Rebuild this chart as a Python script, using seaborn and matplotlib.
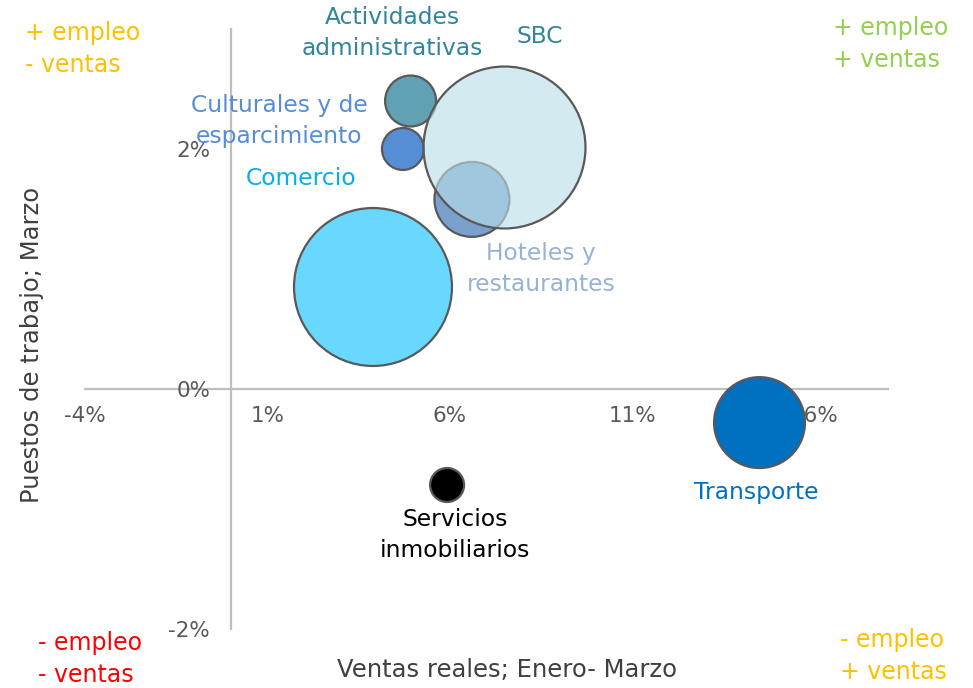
import pandas as pd
import matplotlib.pyplot as plt
import seaborn as sns

# datos (%)
sectores = ["Comercio", "Hoteles y\nrestaurantes", "Culturales y de\nesparcimiento",
            "Actividades\nadministrativas", "Transporte", "Servicios\ninmobiliarios", "SBC"]
ventas = [3.89, 6.60, 4.71, 4.92, 14.48, 5.92, 7.48]
empleo = [0.85, 1.58, 2.00, 2.40, -0.28, -0.80, 2.02]
peso = [95.1, 21.4, 6.7, 9.9, 31.5, 4.4, 100.0]

xticks = [-4, 1, 6, 11, 16]
yticks = [-2, 0, 2]

colores = {
    "Comercio": "#69d8ff",
    "Hoteles y\nrestaurantes": "#7aa1cd",
    "Culturales y de\nesparcimiento": "#558ed5",
    "Actividades\nadministrativas": "#60a2b4",
    "Transporte": "#0070c0",
    "Servicios\ninmobiliarios": "#000000",
    "SBC": "#b8dee8",
}
color_texto = {
    "Comercio": "#00b0f0",
    "Hoteles y\nrestaurantes": "#95b3d7",
    "Culturales y de\nesparcimiento": "#558ed5",
    "Actividades\nadministrativas": "#31859c",
    "Transporte": "#0070c0",
    "Servicios\ninmobiliarios": "#000000",
    "SBC": "#31859c",
}
# desplazamiento de la etiqueta respecto a la burbuja (pt)
offsets = {
    "Comercio": (-52, 78),
    "Hoteles y\nrestaurantes": (50, -50),
    "Culturales y de\nesparcimiento": (-89, 20),
    "Actividades\nadministrativas": (-13, 49),
    "Transporte": (-2, -50),
    "Servicios\ninmobiliarios": (6, -36),
    "SBC": (26, 79),
}

df = pd.DataFrame({"sector": sectores, "ventas": ventas, "empleo": empleo, "peso": peso})

sns.set_theme(style="white")
plt.rcParams['font.family'] = ['DejaVu Sans']

fig = plt.figure(figsize=(9.73, 6.88), dpi=100)
ax = fig.add_axes([0, 0, 1, 1])

smax = 13600
opacas = df[df["sector"] != "SBC"]
sns.scatterplot(data=opacas, x="ventas", y="empleo", hue="sector", palette=colores,
                size="peso", sizes=(0, smax), size_norm=(0, 100),
                edgecolor="#595959", linewidth=1.6, alpha=1, legend=False, ax=ax)
sns.scatterplot(data=df[df["sector"] == "SBC"], x="ventas", y="empleo", hue="sector",
                palette=colores, size="peso", sizes=(0, smax), size_norm=(0, 100),
                edgecolor="#595959", linewidth=1.6, legend=False, ax=ax)
# SBC semitransparente, pero con el borde opaco
sbc = ax.collections[-1]
sbc.set_alpha(None)
sbc.set_facecolor((0.722, 0.871, 0.91, 0.63))
sbc.set_edgecolor("#595959")

ax.set_xlim(-231 / 36.5, (973 - 231) / 36.5)
ax.set_ylim(-(688 - 389) / 120, 389 / 120)

for s in ["top", "right"]:
    ax.spines[s].set_visible(False)
ax.spines["left"].set_position(("data", 0))
ax.spines["bottom"].set_position(("data", 0))
ax.spines["left"].set_bounds(-2, 3)
ax.spines["bottom"].set_bounds(-4, 18)
for s in ["left", "bottom"]:
    ax.spines[s].set_color("#bfbfbf")
    ax.spines[s].set_linewidth(1.6)
    ax.spines[s].set_zorder(0.5)

ax.set_xticks(xticks)
ax.set_xticklabels([f"{t}%" for t in xticks])
ax.set_yticks(yticks)
ax.set_yticklabels([f"{t}%" for t in yticks])
ax.tick_params(axis="x", length=0, pad=12, labelsize=15.5, labelcolor="#595959")
ax.tick_params(axis="y", length=0, pad=15, labelsize=15.5, labelcolor="#595959")
ax.set_xlabel("")
ax.set_ylabel("")
ax.patch.set_alpha(0)

for sec, x, y in zip(sectores, ventas, empleo):
    ax.annotate(sec, (x, y), xytext=offsets[sec], textcoords="offset points",
                ha="center", va="center", fontsize=16.8, color=color_texto[sec],
                linespacing=1.45)

fig.text(507 / 973, 1 - 670 / 688, "Ventas reales; Enero- Marzo", ha="center", va="center",
         fontsize=17.5, color="#404040")
fig.text(32 / 973, 1 - 345 / 688, "Puestos de trabajo; Marzo", ha="center", va="center",
         rotation=90, fontsize=17.5, color="#404040")

kw = dict(ha="left", va="center", fontsize=17, linespacing=1.45)
fig.text(25 / 973, 1 - 49 / 688, "+ empleo\n- ventas", color="#ffc000", **kw)
fig.text(833 / 973, 1 - 44 / 688, "+ empleo\n+ ventas", color="#92d050", **kw)
fig.text(38 / 973, 1 - 659 / 688, "- empleo\n- ventas", color="#ff0000", **kw)
fig.text(840 / 973, 1 - 656 / 688, "- empleo\n+ ventas", color="#ffc000", **kw)

fig.savefig("out.png", dpi=100)
